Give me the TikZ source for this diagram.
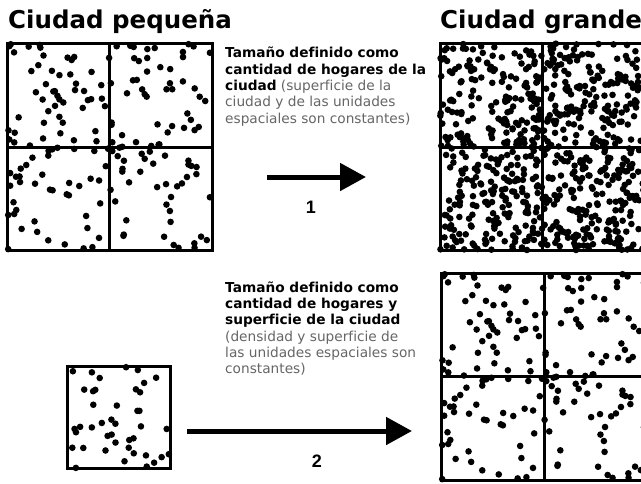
\documentclass[tikz,border=0pt]{standalone}
\usepackage{fontspec}
\setmainfont[Ligatures=NoCommon]{DejaVu Sans}
\setsansfont{Liberation Sans}
\usetikzlibrary{arrows.meta}
\definecolor{txtgray}{HTML}{666666}
\newcommand\dotfield[6]{%
  \pgfmathsetseed{#6}%
  \foreach \k in {1,...,#5}{\fill ({#1+rnd*#3},{#2+rnd*#4}) circle (3.3pt);}%
}
\begin{document}
\begin{tikzpicture}[x=1pt,y=-1pt,
  cell/.style={line width=3pt,line cap=rect},
  flowarrow/.style={line width=5pt,-{Triangle[length=26pt,width=27pt]}},
  title/.style={anchor=base west,inner sep=0pt,font=\bfseries\fontsize{24.5}{28}\selectfont},
  desc/.style={anchor=north west,inner sep=0pt,align=left,font=\fontsize{13.7}{16.3}\selectfont},
  num/.style={inner sep=0pt,font=\sffamily\bfseries\fontsize{18}{20}\selectfont}]
\useasboundingbox (0,0) rectangle (641,483);
\clip (0,0) rectangle (641,483);
\fill[white] (0,0) rectangle (641,483);

% titles
\node[title] (t1) at (8,28) {Ciudad pequeña};
\node[title] (t2) at (440,28) {Ciudad grande};

% top small city
\draw[cell] (7,43) rectangle (212,250);
\draw[cell] (109.5,43) -- (109.5,250);
\draw[cell] (7,147) -- (212,147);
\dotfield{7}{43}{205}{207}{180}{11}

% top big city
\draw[cell] (440,43) rectangle (644,250);
\draw[cell] (542,43) -- (542,250);
\draw[cell] (440,147) -- (644,147);
\dotfield{440}{43}{204}{207}{720}{29}

% bottom small box
\draw[cell] (67,366) rectangle (170,468);
\dotfield{67}{366}{103}{102}{42}{5}

% bottom big city
\draw[cell] (441,273) rectangle (647,480);
\draw[cell] (544,273) -- (544,480);
\draw[cell] (441,376) -- (647,376);
\dotfield{441}{273}{205}{207}{180}{11}

% texts
\node[desc] (d1) at (225,47) {\textbf{Tamaño definido como}\\
\textbf{cantidad de hogares de la}\\
\textbf{ciudad} {\color{txtgray}(superficie de la}\\
{\color{txtgray}ciudad y de las unidades}\\
{\color{txtgray}espaciales son constantes)}};
\node[desc] (d2) at (225,281.5) {\textbf{Tamaño definido como}\\
\textbf{cantidad de hogares y}\\
\textbf{superficie de la ciudad}\\
{\color{txtgray}(densidad y superficie de}\\
{\color{txtgray}las unidades espaciales son}\\
{\color{txtgray}constantes)}};

% arrows
\coordinate (a1s) at (267,177);
\coordinate (a1e) at (366,177);
\draw[flowarrow] (a1s) -- (a1e);
\node[num] (n1) at (311,207) {1};
\coordinate (a2s) at (187,431);
\coordinate (a2e) at (412,431);
\draw[flowarrow] (a2s) -- (a2e);
\node[num] (n2) at (317,461) {2};
\end{tikzpicture}
\end{document}
